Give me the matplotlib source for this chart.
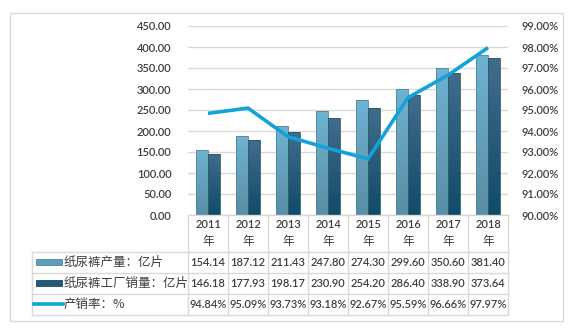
import numpy as np
import matplotlib
matplotlib.use("Agg")
import matplotlib.pyplot as plt
from matplotlib import transforms
from matplotlib.lines import Line2D
from matplotlib.patches import Rectangle
from matplotlib.colors import LinearSegmentedColormap

plt.rcParams['font.family'] = ['Lato', 'Noto Sans CJK SC', 'DejaVu Sans']
plt.rcParams['font.weight'] = 'semibold'

years = ['2011', '2012', '2013', '2014', '2015', '2016', '2017', '2018']
production = [154.14, 187.12, 211.43, 247.80, 274.30, 299.60, 350.60, 381.40]
sales = [146.18, 177.93, 198.17, 230.90, 254.20, 286.40, 338.90, 373.64]
rate = [94.84, 95.09, 93.73, 93.18, 92.67, 95.59, 96.66, 97.97]
row_labels = ['纸尿裤产量：亿片', '纸尿裤工厂销量：亿片', '产销率：%']
left_ticks = [0, 50, 100, 150, 200, 250, 300, 350, 400, 450]
right_ticks = [90, 91, 92, 93, 94, 95, 96, 97, 98, 99]

W, H = 572, 333
fig = plt.figure(figsize=(W / 100, H / 100), dpi=100)
TXT = '#3f3f3f'
GRID = '#d9d9d9'

def fx(x):
    return x / W

def fy(y):
    return 1 - y / H

ax_left, ax_right, ax_top, ax_bot = 188, 508, 26, 215
ax = fig.add_axes([fx(ax_left), fy(ax_bot), fx(ax_right - ax_left), fy(ax_top) - fy(ax_bot)])
ax.set_xlim(-0.5, len(years) - 0.5)
ax.set_ylim(0, 450)
ax.set_yticks(left_ticks)
ax.set_yticklabels([f'{v:.2f}' for v in left_ticks])
ax.yaxis.grid(True, color=GRID, linewidth=1)
ax.set_axisbelow(True)
for s in ax.spines.values():
    s.set_visible(False)
ax.tick_params(axis='y', length=0, pad=12, labelsize=8, labelcolor=TXT)
ax.set_xticks([])

x = np.arange(len(years))
bw = 0.3
b1 = ax.bar(x - bw / 2 - 0.005, production, width=bw, color='none', edgecolor='#4d86a0', linewidth=0.6, zorder=3)
b2 = ax.bar(x + bw / 2 + 0.005, sales, width=bw, color='none', edgecolor='#2c5670', linewidth=0.6, zorder=3)

cm1 = LinearSegmentedColormap.from_list('c1', ['#5a8ea2', '#6fb2d2'])
cm2 = LinearSegmentedColormap.from_list('c2', ['#0f4b68', '#416d8c'])
grad = np.linspace(0, 1, 100).reshape(-1, 1)
for bars, cm in ((b1, cm1), (b2, cm2)):
    for p in bars:
        x0, y0 = p.get_x(), p.get_y()
        w, h = p.get_width(), p.get_height()
        im = ax.imshow(grad, cmap=cm, origin='lower', aspect='auto',
                       extent=[x0, x0 + w, y0, y0 + h], zorder=2.5, interpolation='bilinear')
        im.set_clip_path(p)
ax.set_xlim(-0.5, len(years) - 0.5)
ax.set_ylim(0, 450)

ax2 = ax.twinx()
ax2.set_ylim(90, 99)
ax2.set_yticks(right_ticks)
ax2.set_yticklabels([f'{v:.2f}%' for v in right_ticks])
for s in ax2.spines.values():
    s.set_visible(False)
ax2.tick_params(axis='y', length=0, pad=10, labelsize=8, labelcolor=TXT)
LINEC = '#13a2da'
ax2.plot(x, rate, color=LINEC, linewidth=2.6, solid_capstyle='butt', solid_joinstyle='miter', zorder=5)

# outer border
fig.add_artist(Rectangle((fx(10), fy(321)), fx(553), fy(13) - fy(321), transform=fig.transFigure,
                         fill=False, edgecolor=GRID, linewidth=1))

# data table
bt = transforms.blended_transform_factory(ax.transData, fig.transFigure)
tbl_left = 32
rows_y = [215, 251.5, 272.5, 294, 315]
n = len(years)
for i in range(n + 1):
    fig.add_artist(Line2D([i - 0.5, i - 0.5], [fy(rows_y[0]), fy(rows_y[-1])], transform=bt, color=GRID, linewidth=1))
fig.add_artist(Line2D([-0.5, n - 0.5], [fy(rows_y[0]), fy(rows_y[0])], transform=bt, color=GRID, linewidth=1))
for yy in rows_y[1:]:
    fig.add_artist(Line2D([fx(tbl_left), fx(ax_right)], [fy(yy), fy(yy)], transform=fig.transFigure, color=GRID, linewidth=1))
fig.add_artist(Line2D([fx(tbl_left), fx(tbl_left)], [fy(rows_y[1]), fy(rows_y[-1])], transform=fig.transFigure, color=GRID, linewidth=1))

for i, yr in enumerate(years):
    fig.text(i, fy(224), yr, transform=bt, ha='center', va='center', fontsize=8, color=TXT)
    fig.text(i, fy(241), '年', transform=bt, ha='center', va='center', fontsize=8.5, color=TXT,
             family=['Noto Sans CJK SC'], fontweight='normal')

row_vals = [[f'{v:.2f}' for v in production], [f'{v:.2f}' for v in sales], [f'{v:.2f}%' for v in rate]]
for r, vals in enumerate(row_vals):
    yc = (rows_y[r + 1] + rows_y[r + 2]) / 2
    for i, s in enumerate(vals):
        fig.text(i, fy(yc), s, transform=bt, ha='center', va='center', fontsize=8, color=TXT)
    fig.text(fx(64), fy(yc), row_labels[r], ha='left', va='center', fontsize=9, color=TXT,
             family=['Noto Sans CJK SC', 'DejaVu Sans'], fontweight='normal')

# legend keys
k1 = Rectangle((fx(36), fy(265)), fx(26), fy(259) - fy(265), transform=fig.transFigure,
               facecolor='#5f9dbb', edgecolor='#4d86a0', linewidth=0.6)
k2 = Rectangle((fx(36), fy(286)), fx(26), fy(280) - fy(286), transform=fig.transFigure,
               facecolor='#24587a', edgecolor='#1d4b66', linewidth=0.6)
fig.add_artist(k1)
fig.add_artist(k2)
fig.add_artist(Line2D([fx(34), fx(63)], [fy(303.5), fy(303.5)], transform=fig.transFigure, color=LINEC, linewidth=2.6))

fig.savefig('out.png', dpi=100)
